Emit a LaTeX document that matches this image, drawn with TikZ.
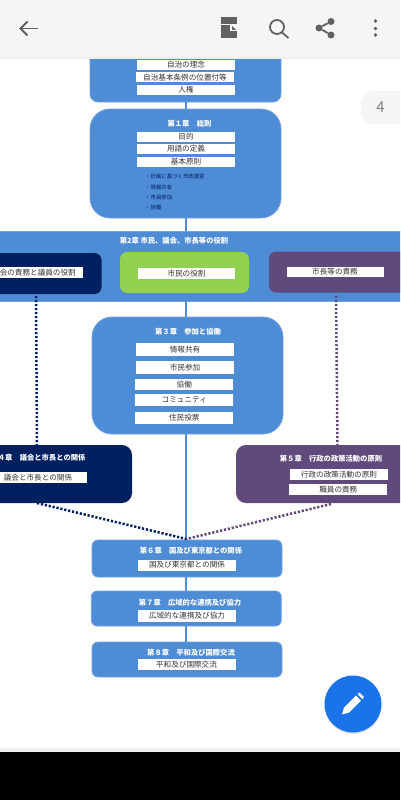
\documentclass[tikz,border=0pt]{standalone}
\usepackage{fontspec}
\setmainfont{Noto Sans CJK JP}
\usetikzlibrary{shadows}
\definecolor{chapblue}{HTML}{4F8CD6}
\definecolor{chapedge}{HTML}{6FA2E0}
\definecolor{navybox}{HTML}{002060}
\definecolor{plumbox}{HTML}{604A7B}
\definecolor{leafbox}{HTML}{92D050}
\definecolor{barface}{HTML}{F5F5F5}
\definecolor{icongray}{HTML}{616161}
\definecolor{fabblue}{HTML}{1A73E8}
\definecolor{inktext}{HTML}{333333}
\tikzset{
  chapbox/.style={fill=chapblue,draw=chapedge,line width=0.8pt,inner sep=0pt,outer sep=0pt},
  sidebox/.style={inner sep=0pt,outer sep=0pt,rounded corners=7pt},
  itembox/.style={fill=white,inner sep=0pt,outer sep=0pt,minimum width=98pt,text=inktext,font=\fontsize{7.6pt}{8pt}\selectfont},
  chaptitle/.style={text=white,inner sep=0pt,font=\fontsize{7.3pt}{8pt}\selectfont\bfseries},
  noteline/.style={anchor=west,text=navybox,inner sep=0pt,font=\fontsize{5.4pt}{6pt}\selectfont},
  solidlink/.style={draw=chapblue,line width=2.2pt},
  navylink/.style={draw=navybox,line width=2.5pt,dash pattern=on 2.2pt off 1.8pt},
  plumlink/.style={draw=plumbox,line width=2.5pt,dash pattern=on 2.2pt off 1.8pt},
  iconline/.style={draw=icongray,line width=1.8pt}
}
\begin{document}
\begin{tikzpicture}[x=1pt,y=-1pt]
\useasboundingbox (0,0) rectangle (400,800);
\clip (0,0) rectangle (400,800);
% top block
\node[chapbox,rounded corners=8pt,minimum width=191pt,minimum height=82pt] (preface) at (185.5,61) {};
\node[itembox,minimum height=10pt] (itemRinen) at (186,65) {自治の理念};
\node[itembox,minimum height=9.5pt] (itemIchi) at (185,77.2) {自治基本条例の位置付等};
\node[itembox,minimum height=10pt] (itemJinken) at (186,90) {人権};
% chapter 1
\node[chapbox,rounded corners=20pt,minimum width=191pt,minimum height=109pt] (chOne) at (185.5,163.5) {};
\node[chaptitle] (titleOne) at (189.5,123.5) {第１章　総則};
\node[itembox,minimum height=10pt] (itemMokuteki) at (186,136.7) {目的};
\node[itembox,minimum height=10pt] (itemYogo) at (186,149) {用語の定義};
\node[itembox,minimum height=10pt] (itemKihon) at (186,162) {基本原則};
\node[noteline] (noteKeikaku) at (145,176.5) {・計画に基づく市政運営};
\node[noteline] (noteJoho) at (145,187) {・情報共有};
\node[noteline] (noteSanka) at (145,197.3) {・市民参加};
\node[noteline] (noteKyodo) at (145,207.5) {・協働};
% chapter 2
\node[chapbox,minimum width=420pt,minimum height=70pt] (chTwo) at (195,266) {};
\node[chaptitle] (titleTwo) at (174,241) {第2章 市民、議会、市長等の役割};
\node[sidebox,fill=navybox,minimum width=121pt,minimum height=41pt] (boxGikai) at (41,273.5) {};
\node[itembox,minimum height=11pt] (itemGikai) at (34,272.5) {議会の責務と議員の役割};
\node[sidebox,fill=leafbox,minimum width=129pt,minimum height=41pt] (boxShimin) at (184.5,272.5) {};
\node[itembox,minimum height=11pt,minimum width=97pt] (itemShimin) at (186.5,273.5) {市民の役割};
\node[sidebox,fill=plumbox,minimum width=151pt,minimum height=41pt] (boxShicho) at (344.5,272) {};
\node[itembox,minimum height=10.5pt,minimum width=97pt] (itemShicho) at (335,272) {市長等の責務};
% chapter 3
\node[chapbox,rounded corners=20pt,minimum width=191pt,minimum height=117pt] (chThree) at (187.5,375.5) {};
\node[chaptitle] (titleThree) at (188,332) {第３章　参加と協働};
\node[itembox,minimum height=13pt] (itemKyoyu) at (185,349.5) {情報共有};
\node[itembox,minimum height=12.5pt] (itemSanka) at (185,367.3) {市民参加};
\node[itembox,minimum height=11pt] (itemKyodo) at (184.3,384.5) {協働};
\node[itembox,minimum height=12pt] (itemComm) at (184.3,400) {コミュニティ};
\node[itembox,minimum height=12pt] (itemTohyo) at (184.3,418) {住民投票};
% chapter 4 and 5
\node[sidebox,fill=navybox,rounded corners=10pt,minimum width=152pt,minimum height=58pt] (chFour) at (56,474) {};
\node[chaptitle] (titleFour) at (38,457.5) {第４章　議会と市長との関係};
\node[itembox,minimum height=11pt] (itemKankei) at (38,477.5) {議会と市長との関係};
\node[sidebox,fill=plumbox,rounded corners=10pt,minimum width=184pt,minimum height=58pt] (chFive) at (328,474) {};
\node[chaptitle] (titleFive) at (331,458.5) {第５章　行政の政策活動の原則};
\node[itembox,minimum height=10.5pt] (itemGyosei) at (339,474.3) {行政の政策活動の原則};
\node[itembox,minimum height=10.5pt] (itemShokuin) at (338.3,489.5) {職員の責務};
% chapter 6 to 8
\node[chapbox,rounded corners=6pt,minimum width=190pt,minimum height=37pt] (chSix) at (187,558.5) {};
\node[chaptitle] (titleSix) at (191,551) {第６章　国及び東京都との関係};
\node[itembox,minimum height=11pt] (itemKuni) at (187,565) {国及び東京都との関係};
\node[chapbox,rounded corners=6pt,minimum width=190pt,minimum height=35pt] (chSeven) at (186.3,608.5) {};
\node[chaptitle] (titleSeven) at (190,603) {第７章　広域的な連携及び協力};
\node[itembox,minimum height=12pt] (itemKoiki) at (187,616) {広域的な連携及び協力};
\node[chapbox,rounded corners=6pt,minimum width=190pt,minimum height=35pt] (chEight) at (187,659.5) {};
\node[chaptitle] (titleEight) at (191,653) {第８章　平和及び国際交流};
\node[itembox,minimum height=11pt] (itemHeiwa) at (186.5,664.5) {平和及び国際交流};
% connectors
\coordinate (spine) at (186.3,0);
\coordinate (meet) at (186.3,539);
\coordinate (gikaiDrop) at (36,296);
\coordinate (gikaiLand) at (37,445);
\coordinate (shichoDrop) at (336,296);
\coordinate (shichoLand) at (337.5,445);
\coordinate (fourFoot) at (37,503);
\coordinate (fiveFoot) at (331,504);
\draw[solidlink] (preface.south -| spine) -- (chOne.north -| spine);
\draw[solidlink] (chOne.south -| spine) -- (chTwo.north -| spine);
\draw[solidlink] (chTwo.south -| spine) -- (chThree.north -| spine);
\draw[solidlink] (chThree.south -| spine) -- (chSix.north -| spine);
\draw[solidlink] (chSix.south -| spine) -- (chSeven.north -| spine);
\draw[solidlink] (chSeven.south -| spine) -- (chEight.north -| spine);
\draw[navylink] (gikaiDrop) -- (gikaiLand);
\draw[plumlink] (shichoDrop) -- (shichoLand);
\draw[plumlink] (fiveFoot) -- (meet);
\draw[navylink] (fourFoot) -- (meet);
% app bar
\fill[black!7] (0,57) rectangle (400,59);
\fill[barface] (0,0) rectangle (400,57.5);
\draw[iconline] (37.5,28.5) -- (20.5,28.5);
\draw[iconline] (27.5,21.5) -- (20.5,28.5) -- (27.5,35.5);
\fill[icongray] (221,17) rectangle (237,24);
\fill[icongray] (221,25) rectangle (230,38.5);
\fill[icongray] (230,31) -- (237,31) -- (237,38.5) -- (230,38.5) -- cycle;
\fill[icongray] (232,26) -- (236,30) -- (232,30) -- cycle;
\draw[iconline] (277,27) circle (7);
\draw[iconline] (282,32.5) -- (288.5,38);
\node[circle,fill=icongray,inner sep=0pt,minimum size=7pt] (shareTop) at (331,21.5) {};
\node[circle,fill=icongray,inner sep=0pt,minimum size=7pt] (shareLeft) at (319,28) {};
\node[circle,fill=icongray,inner sep=0pt,minimum size=7pt] (shareLow) at (331,35) {};
\draw[iconline] (shareTop) -- (shareLeft) -- (shareLow);
\fill[icongray] (375.5,21) circle (1.8);
\fill[icongray] (375.5,28.5) circle (1.8);
\fill[icongray] (375.5,35) circle (1.8);
% page tag
\fill[barface,rounded corners=12pt] (361,91) rectangle (420,124);
\node[text=gray,inner sep=0pt,font=\fontsize{15pt}{15pt}\selectfont] (pageNo) at (380.5,107.5) {4};
% bottom
\fill[black!6] (0,748) rectangle (400,752);
\fill[black] (0,752) rectangle (400,800);
\node[circle,fill=fabblue,inner sep=0pt,minimum size=57pt,drop shadow={shadow xshift=0pt,shadow yshift=-1.5pt,opacity=0.25}] (fab) at (353,704) {};
\fill[white] (342,714.5) -- (344,707.5) -- (356,695.5) -- (361,700.5) -- (349,712.5) -- cycle;
\fill[white] (357.5,694) -- (359.5,692.5) -- (364,697) -- (362.5,699) -- cycle;
\end{tikzpicture}
\end{document}
